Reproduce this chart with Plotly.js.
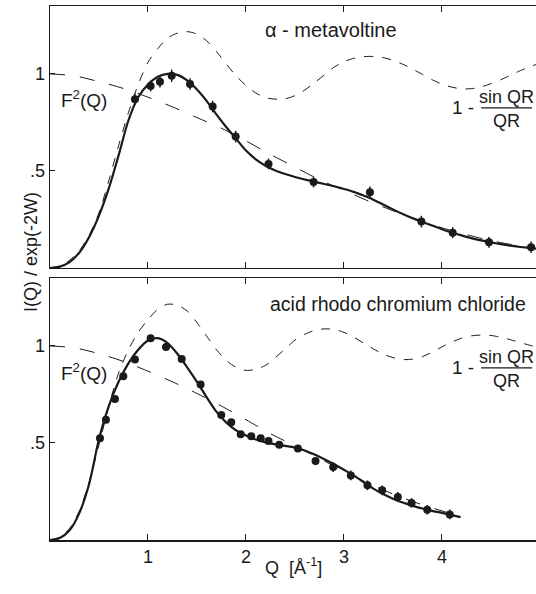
<!DOCTYPE html>
<html>
<head>
<meta charset="utf-8">
<script src="https://cdn.plot.ly/plotly-3.0.1.min.js"></script>
<style>html,body{margin:0;padding:0;background:#fff}#chart{width:536px;height:594px}</style>
</head>
<body>
<div id="chart"></div>
<script>
// ---------- top panel: alpha-metavoltine ----------
const topDataQ   = [0.867, 1.027, 1.122, 1.242, 1.429, 1.660, 1.895, 2.23, 2.69, 3.265, 3.79, 4.11, 4.48, 4.91];
const topDataI   = [0.870, 0.938, 0.960, 0.990, 0.948, 0.832, 0.677, 0.536, 0.443, 0.390, 0.239, 0.182, 0.132, 0.107];
const topDataErr = [0.030, 0.028, 0.030, 0.032, 0.030, 0.030, 0.030, 0.028, 0.028, 0.030, 0.030, 0.028, 0.028, 0.030];

const topFitQ = [0, 0.1, 0.2, 0.3, 0.4, 0.5, 0.6, 0.7, 0.8, 0.9, 1.0, 1.1, 1.2, 1.3, 1.4, 1.5, 1.6, 1.7, 1.8, 1.9, 2.0, 2.1, 2.2, 2.3, 2.4, 2.5, 2.6, 2.7, 2.8, 2.9, 3.0, 3.1, 3.2, 3.3, 3.4, 3.5, 3.6, 3.7, 3.8, 3.9, 4.0, 4.1, 4.2, 4.3, 4.4, 4.5, 4.6, 4.7, 4.8, 4.9, 4.96];
const topFitI = [0, 0.007, 0.03, 0.08, 0.16, 0.27, 0.41, 0.58, 0.76, 0.88, 0.945, 0.985, 1.0, 0.995, 0.967, 0.92, 0.86, 0.79, 0.725, 0.665, 0.605, 0.56, 0.527, 0.502, 0.484, 0.469, 0.456, 0.444, 0.433, 0.421, 0.407, 0.392, 0.373, 0.352, 0.327, 0.302, 0.278, 0.256, 0.237, 0.219, 0.200, 0.183, 0.168, 0.154, 0.142, 0.132, 0.123, 0.115, 0.108, 0.103, 0.100];

const topSinQ = [0, 0.1, 0.2, 0.3, 0.4, 0.5, 0.6, 0.7, 0.8, 0.9, 1.0, 1.1, 1.2, 1.3, 1.4, 1.5, 1.6, 1.7, 1.8, 1.9, 2.0, 2.1, 2.2, 2.3, 2.4, 2.5, 2.6, 2.7, 2.8, 2.9, 3.0, 3.1, 3.2, 3.3, 3.4, 3.5, 3.6, 3.7, 3.8, 3.9, 4.0, 4.1, 4.2, 4.3, 4.4, 4.5, 4.6, 4.7, 4.8, 4.9, 4.96];
const topSinI = [0, 0.01, 0.04, 0.09, 0.17, 0.285, 0.45, 0.63, 0.80, 0.945, 1.06, 1.13, 1.185, 1.21, 1.218, 1.205, 1.17, 1.115, 1.05, 0.99, 0.94, 0.902, 0.878, 0.870, 0.872, 0.888, 0.917, 0.955, 0.995, 1.035, 1.063, 1.080, 1.089, 1.090, 1.084, 1.070, 1.050, 1.025, 0.998, 0.970, 0.948, 0.932, 0.923, 0.924, 0.933, 0.950, 0.970, 0.993, 1.017, 1.038, 1.048];

const topF2Q = [0, 0.25, 0.5, 0.75, 1.0, 1.25, 1.5, 1.75, 2.0, 2.25, 2.5, 2.75, 3.0, 3.25, 3.5, 3.75, 4.0, 4.25, 4.5, 4.75, 4.96];
const topF2I = [1.0, 0.99, 0.96, 0.925, 0.88, 0.83, 0.775, 0.72, 0.655, 0.585, 0.52, 0.455, 0.40, 0.345, 0.295, 0.25, 0.207, 0.172, 0.141, 0.117, 0.100];

// ---------- bottom panel: acid rhodo chromium chloride ----------
const botDataQ   = [0.51, 0.571, 0.663, 0.748, 0.867, 1.027, 1.184, 1.344, 1.537, 1.748, 1.85, 1.946, 2.054, 2.15, 2.23, 2.34, 2.53, 2.71, 2.89, 3.07, 3.24, 3.39, 3.55, 3.69, 3.85, 4.08];
const botDataI   = [0.524, 0.620, 0.727, 0.844, 0.930, 1.040, 0.995, 0.933, 0.801, 0.644, 0.607, 0.545, 0.534, 0.524, 0.510, 0.491, 0.471, 0.407, 0.376, 0.333, 0.282, 0.256, 0.222, 0.191, 0.156, 0.132];
const botDataErr = [0, 0, 0, 0, 0, 0, 0, 0, 0, 0, 0, 0, 0, 0, 0, 0, 0, 0.018, 0.025, 0.025, 0.025, 0.025, 0.025, 0.025, 0.025, 0.025];

const botFitQ = [0, 0.1, 0.2, 0.3, 0.4, 0.5, 0.6, 0.7, 0.8, 0.9, 1.0, 1.1, 1.2, 1.3, 1.4, 1.5, 1.6, 1.7, 1.8, 1.9, 2.0, 2.1, 2.2, 2.3, 2.4, 2.5, 2.6, 2.7, 2.8, 2.9, 3.0, 3.1, 3.2, 3.3, 3.4, 3.5, 3.6, 3.7, 3.8, 3.9, 4.0, 4.1, 4.19];
const botFitI = [0, 0.01, 0.05, 0.14, 0.29, 0.52, 0.69, 0.815, 0.91, 0.98, 1.028, 1.04, 1.015, 0.96, 0.89, 0.815, 0.735, 0.66, 0.605, 0.565, 0.538, 0.518, 0.503, 0.493, 0.485, 0.476, 0.461, 0.440, 0.416, 0.390, 0.362, 0.333, 0.298, 0.265, 0.237, 0.213, 0.193, 0.177, 0.162, 0.150, 0.140, 0.128, 0.118];

const botSinQ = [0, 0.1, 0.2, 0.3, 0.4, 0.5, 0.6, 0.7, 0.8, 0.9, 1.0, 1.1, 1.2, 1.3, 1.4, 1.5, 1.6, 1.7, 1.8, 1.9, 2.0, 2.1, 2.2, 2.3, 2.4, 2.5, 2.6, 2.7, 2.8, 2.9, 3.0, 3.1, 3.2, 3.3, 3.4, 3.5, 3.6, 3.7, 3.8, 3.9, 4.0, 4.1, 4.2, 4.3, 4.4, 4.5, 4.6, 4.7, 4.8, 4.9, 4.96];
const botSinI = [0, 0.015, 0.06, 0.15, 0.30, 0.49, 0.69, 0.86, 0.98, 1.07, 1.135, 1.19, 1.215, 1.21, 1.18, 1.12, 1.05, 0.98, 0.925, 0.89, 0.874, 0.880, 0.900, 0.940, 0.985, 1.030, 1.060, 1.080, 1.088, 1.085, 1.070, 1.045, 1.015, 0.985, 0.958, 0.940, 0.930, 0.932, 0.945, 0.968, 0.995, 1.020, 1.040, 1.052, 1.056, 1.054, 1.045, 1.032, 1.017, 1.003, 0.995];

const botF2Q = [0, 0.25, 0.5, 0.75, 1.0, 1.25, 1.5, 1.75, 2.0, 2.25, 2.5, 2.75, 3.0, 3.25, 3.5, 3.75, 4.0, 4.19];
const botF2I = [1.0, 0.99, 0.96, 0.92, 0.87, 0.815, 0.755, 0.69, 0.62, 0.548, 0.485, 0.42, 0.355, 0.292, 0.237, 0.19, 0.15, 0.122];

const xTicks = [1, 2, 3, 4];
const xTickText = ['1', '2', '3', '4'];
const yTicks = [0.5, 1];
const yTickText = ['.5', '1'];

const INK = '#1a1a1a';
const FONT = 'Liberation Sans, Arial, sans-serif';

function curve(x, y, xa, ya, width, dash) {
  return {x: x, y: y, xaxis: xa, yaxis: ya, type: 'scatter', mode: 'lines',
          line: {color: INK, width: width, dash: dash, shape: 'spline', smoothing: 0.8},
          hoverinfo: 'skip', showlegend: false};
}
function pts(x, y, err, xa, ya) {
  return {x: x, y: y, xaxis: xa, yaxis: ya, type: 'scatter', mode: 'markers',
          marker: {color: INK, size: 8},
          error_y: {type: 'data', array: err, visible: true, color: INK, thickness: 1.5, width: 0},
          showlegend: false};
}

const data = [
  curve(topSinQ, topSinI, 'x', 'y', 1, 'dash'),
  curve(topF2Q, topF2I, 'x', 'y', 1, 'longdash'),
  curve(topFitQ, topFitI, 'x', 'y', 2.2, 'solid'),
  pts(topDataQ, topDataI, topDataErr, 'x', 'y'),
  curve(botSinQ, botSinI, 'x2', 'y2', 1, 'dash'),
  curve(botF2Q, botF2I, 'x2', 'y2', 1, 'longdash'),
  curve(botFitQ, botFitI, 'x2', 'y2', 2.2, 'solid'),
  pts(botDataQ, botDataI, botDataErr, 'x2', 'y2')
];

const xBase = {range: [0, 4.96], tickvals: xTicks, ticktext: xTickText, ticks: 'inside', ticklen: 6,
  tickcolor: INK, showline: true, linecolor: INK, linewidth: 1.5, mirror: 'ticks',
  showgrid: false, zeroline: false, tickfont: {family: FONT, size: 18, color: INK}};
const yBase = {range: [0, 1.35], tickvals: yTicks, ticktext: yTickText, ticks: 'inside', ticklen: 5,
  tickcolor: INK, showline: true, linecolor: INK, linewidth: 1.5, mirror: false,
  showgrid: false, zeroline: false, tickfont: {family: FONT, size: 18, color: INK}};

function ann(text, x, y, xref, yref, size, extra) {
  return Object.assign({text: text, x: x, y: y, xref: xref, yref: yref, showarrow: false,
    font: {family: FONT, size: size, color: INK}}, extra || {});
}

const layout = {
  width: 536, height: 594,
  margin: {l: 50, r: 0, t: 6, b: 54},
  paper_bgcolor: '#fff', plot_bgcolor: '#fff',
  showlegend: false,
  xaxis: Object.assign({}, xBase, {anchor: 'y', showticklabels: false}),
  yaxis: Object.assign({}, yBase, {domain: [0.5094, 1], anchor: 'x'}),
  xaxis2: Object.assign({}, xBase, {anchor: 'y2', showticklabels: true}),
  yaxis2: Object.assign({}, yBase, {domain: [0, 0.4906], anchor: 'x2'}),
  annotations: [
    ann('α - metavoltine', 2.87, 1.227, 'x', 'y', 20),
    ann('F<sup>2</sup>(Q)', 0.09, 0.871, 'x', 'y', 19, {xanchor: 'left'}),
    ann('1 -', 4.21, 0.825, 'x', 'y', 19),
    ann('sin QR', 4.66, 0.880, 'x', 'y', 18),
    ann('QR', 4.66, 0.758, 'x', 'y', 18),
    ann('acid rhodo chromium chloride', 3.55, 1.216, 'x2', 'y2', 19.5),
    ann('F<sup>2</sup>(Q)', 0.09, 0.866, 'x2', 'y2', 19, {xanchor: 'left'}),
    ann('1 -', 4.21, 0.887, 'x2', 'y2', 19),
    ann('sin QR', 4.66, 0.942, 'x2', 'y2', 18),
    ann('QR', 4.66, 0.820, 'x2', 'y2', 18),
    ann('I(Q) / exp(-2W)', -0.064, 0.539, 'paper', 'paper', 18, {textangle: -90}),
    ann('Q  [Å<sup>-1</sup>]', 0.50, -0.075, 'paper', 'paper', 18)
  ],
  shapes: [
    {type: 'line', xref: 'x', yref: 'y', x0: 4.40, x1: 4.92, y0: 0.825, y1: 0.825, line: {color: INK, width: 1.3}},
    {type: 'line', xref: 'x2', yref: 'y2', x0: 4.40, x1: 4.92, y0: 0.887, y1: 0.887, line: {color: INK, width: 1.3}}
  ]
};

Plotly.newPlot('chart', data, layout, {staticPlot: true, displayModeBar: false});
</script>
</body>
</html>
